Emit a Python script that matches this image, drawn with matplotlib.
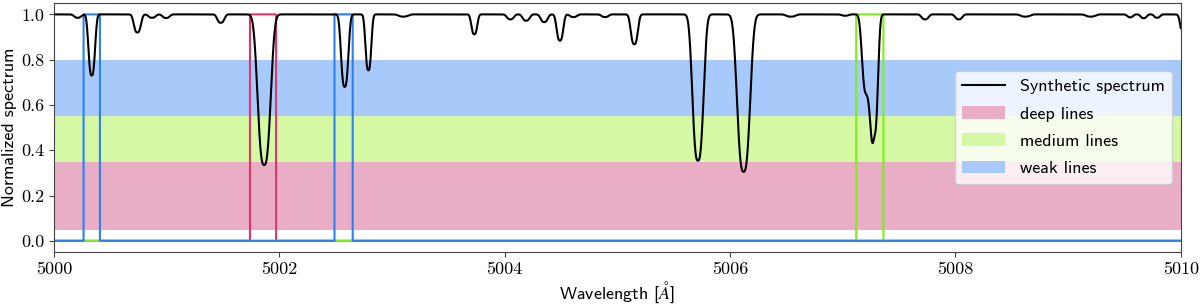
import numpy as np
import matplotlib
matplotlib.use("Agg")
import matplotlib.pyplot as plt
from matplotlib.patches import Patch
from matplotlib.lines import Line2D

# ---- data ----
# absorption lines of the synthetic spectrum: centre [A], depth, width [A]
line_centers = [5000.21, 5000.335, 5000.74, 5000.87, 5000.995, 5001.48, 5001.865,
                5002.58, 5002.79, 5003.10, 5003.73, 5004.05, 5004.19, 5004.35,
                5004.49, 5004.61, 5004.89, 5005.15, 5005.715, 5006.12, 5006.54,
                5007.02, 5007.21, 5007.28, 5007.73, 5008.03, 5008.62, 5009.20,
                5009.55, 5009.67, 5009.79, 5010.03]
line_depths = [0.015, 0.27, 0.08, 0.015, 0.016, 0.037, 0.665,
               0.32, 0.247, 0.010, 0.088, 0.022, 0.028, 0.034,
               0.116, 0.012, 0.012, 0.132, 0.646, 0.695, 0.010,
               0.006, 0.35, 0.525, 0.022, 0.022, 0.010, 0.010,
               0.013, 0.017, 0.015, 0.10]
line_widths = [0.03, 0.028, 0.03, 0.03, 0.03, 0.03, 0.055,
               0.031, 0.025, 0.04, 0.025, 0.03, 0.03, 0.03,
               0.028, 0.03, 0.03, 0.03, 0.047, 0.055, 0.04,
               0.03, 0.037, 0.031, 0.03, 0.03, 0.04, 0.04,
               0.025, 0.025, 0.025, 0.03]

# line-depth classes (bands) and their selection windows
band_names = ["deep lines", "medium lines", "weak lines"]
band_lo = [0.05, 0.35, 0.55]
band_hi = [0.35, 0.55, 0.80]
band_fill = ["#e9aec6", "#d5f8a5", "#a8cafa"]
band_edge = ["#e0356f", "#7fee1a", "#2a7ff5"]
deep_windows = [(5001.74, 5001.97)]
medium_windows = [(5007.12, 5007.36)]
weak_windows = [(5000.262, 5000.408), (5002.49, 5002.65)]
windows = [deep_windows, medium_windows, weak_windows]

x_ticks = [5000, 5002, 5004, 5006, 5008, 5010]
y_ticks = [0.0, 0.2, 0.4, 0.6, 0.8, 1.0]

PROFILE_POWER = 2.8  # shape of the line profile (sharper than gaussian)

# ---- build curves ----
wl = np.linspace(5000.0, 5010.0, 6001)
flux = np.ones_like(wl)
for c, d, w in zip(line_centers, line_depths, line_widths):
    flux -= d * np.exp(-0.5 * np.abs((wl - c) / w) ** PROFILE_POWER)

plt.rcParams["axes.formatter.use_mathtext"] = True
plt.rcParams["mathtext.fontset"] = "cm"

FS = 13
fig = plt.figure(figsize=(12, 3.06), dpi=100)
ax = fig.add_axes([0.045, 0.176, 0.939, 0.814])

handles = [Line2D([], [], color="black", lw=1.5, label="Synthetic spectrum")]
for name, lo, hi, fc in zip(band_names, band_lo, band_hi, band_fill):
    ax.axhspan(lo, hi, color=fc, lw=0, zorder=0)
    handles.append(Patch(facecolor=fc, edgecolor="none", label=name))

for wins, ec in zip(windows, band_edge):
    mask = np.zeros_like(wl)
    for a, b in wins:
        mask[(wl >= a) & (wl <= b)] = 1.0
    ax.plot(wl, mask, color=ec, lw=1.5, drawstyle="steps-mid", zorder=2)

ax.plot(wl, flux, color="black", lw=1.5, zorder=3)

ax.set_xlim(5000, 5010)
ax.set_ylim(-0.05, 1.05)
ax.set_xticks(x_ticks)
ax.set_yticks(y_ticks)
ax.set_xticklabels([str(t) for t in x_ticks], fontfamily="cmr10", fontsize=FS)
ax.set_yticklabels([f"{t:.1f}" for t in y_ticks], fontfamily="cmr10", fontsize=FS)
ax.set_xlabel(r"Wavelength [$\AA$]", fontfamily="cmss10", fontsize=FS, labelpad=2)
ax.set_ylabel("Normalized spectrum", fontfamily="cmss10", fontsize=FS, labelpad=3)
for s in ax.spines.values():
    s.set_color("#444444")
ax.tick_params(colors="#444444", labelcolor="black")

leg = ax.legend(handles=handles, loc="center right", prop={"family": "cmss10", "size": FS},
                handlelength=2.4, labelspacing=0.65, framealpha=0.8)

fig.savefig("out.png", dpi=100)
